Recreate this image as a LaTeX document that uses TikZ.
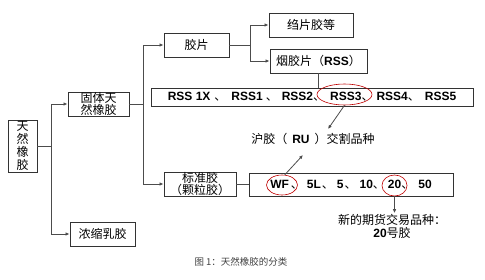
\documentclass[tikz,border=0pt]{standalone}
\usepackage{fontspec}
\setmainfont{Liberation Sans}
\newfontfamily\cjk{Noto Sans CJK SC}
\usepackage{tikz}
\usetikzlibrary{arrows.meta,positioning,shapes.geometric,calc}
\newcommand\en[1]{{\normalfont\bfseries\fontsize{12}{13}\selectfont #1}}
\newcommand\dn[2]{\hspace{#1pt}{\cjk 、}\hspace{#2pt}}

\begin{document}
\begin{tikzpicture}[x=1pt,y=-1pt,>={Latex[length=4pt,width=3.5pt]},
  box/.style={draw=black!80,line width=0.9pt,inner sep=0pt,align=center,
    font=\cjk\fontsize{12}{13}\selectfont},
  txt/.style={inner sep=1pt,align=center,font=\cjk\fontsize{12}{13}\selectfont},
  link/.style={draw=black!70,line width=0.8pt},
  ring/.style={ellipse,draw=red!75!black,line width=0.6pt,inner sep=0pt}]
  \useasboundingbox (0,0) rectangle (485,279);
  % level 1
  \node[box,minimum width=29pt,minimum height=52pt] (tr) at (22.5,146) {天\\然\\橡\\胶};
  \node[box,minimum width=61pt,minimum height=24pt,font=\cjk\fontsize{12}{12.5}\selectfont] (gt) at (98.5,104) {固体天\\然橡胶};
  \node[box,minimum width=65pt,minimum height=24pt] (nr) at (102.5,234) {浓缩乳胶};
  % level 2
  \node[box,minimum width=65pt,minimum height=24pt] (jp) at (196.5,45) {胶片};
  \node[box,minimum width=72pt,minimum height=24pt,font=\cjk\fontsize{12}{12.5}\selectfont] (bz) at (200,184) {标准胶\\（颗粒胶）};
  % level 3
  \node[box,minimum width=84pt,minimum height=24pt] (zp) at (311,25) {绉片胶等};
  \node[box,minimum width=97pt,minimum height=24pt] (yp) at (318.5,61) {烟胶片（\en{RSS}）};
  % grades
  \node[box,minimum width=322pt,minimum height=18pt] (rss) at (312,97)
    {\en{RSS 1X}\dn{4}{5}\en{RSS1}\dn{3}{4}\en{RSS2}\dn{0}{5}\en{RSS3}\dn{0}{3}\en{RSS4}\dn{0}{5}\en{RSS5}};
  \node[box,minimum width=204pt,minimum height=23pt] (wf) at (351,184.5)
    {\en{WF}\dn{2}{4}\en{5L}\dn{1}{3}\en{5}\dn{1}{3}\en{10}\dn{0}{3}\en{20}\dn{0}{5}\en{50}};
  % notes
  \node[txt] (ru) at (313,139) {沪胶（\hspace{5pt}\en{RU}\hspace{5pt}）交割品种};
  \node[txt] (xd) at (392,226.5) {新的期货交易品种：\\\en{20}号胶};
  \node[inner sep=0pt,text=black!75,font=\cjk\fontsize{9.5}{11}\selectfont] (cap) at (241,262) {图 1：天然橡胶的分类};
  % red marks
  \node[ring,minimum width=55pt,minimum height=21pt] (r3) at (344.5,94.5) {};
  \node[ring,minimum width=31pt,minimum height=20pt] (rwf) at (282,185) {};
  \node[ring,minimum width=25pt,minimum height=21pt] (r20) at (394.5,185.5) {};
  \coordinate (ruhook) at (303,155);
  % tree
  \draw[link] (tr.east) -- ++(14,0) coordinate (j1);
  \draw[link,->] (j1) |- (gt.west);
  \draw[link,->] (j1) |- (nr.west);
  \draw[link] (gt.east) -- ++(14,0) coordinate (j2);
  \draw[link,->] (j2) |- (jp.west);
  \draw[link,->] (j2) |- (bz.west);
  \draw[link] (jp.east) -- ++(21,0) coordinate (j3);
  \draw[link,->] (j3) |- (zp.west);
  \draw[link,->] (j3) |- (yp.west);
  \draw[link] (yp.south) -- (yp.south |- rss.north);
  \draw[link] (bz.east) -- (wf.west |- bz.east);
  % pointers
  \draw[link,->] (r3.south) -- ($(ru.north)+(15,-3)$);
  \draw[link,->] (rwf.75) -- (ruhook);
  \draw[link,->] (r20.south) -- (r20.south |- xd.north);
\end{tikzpicture}
\end{document}
